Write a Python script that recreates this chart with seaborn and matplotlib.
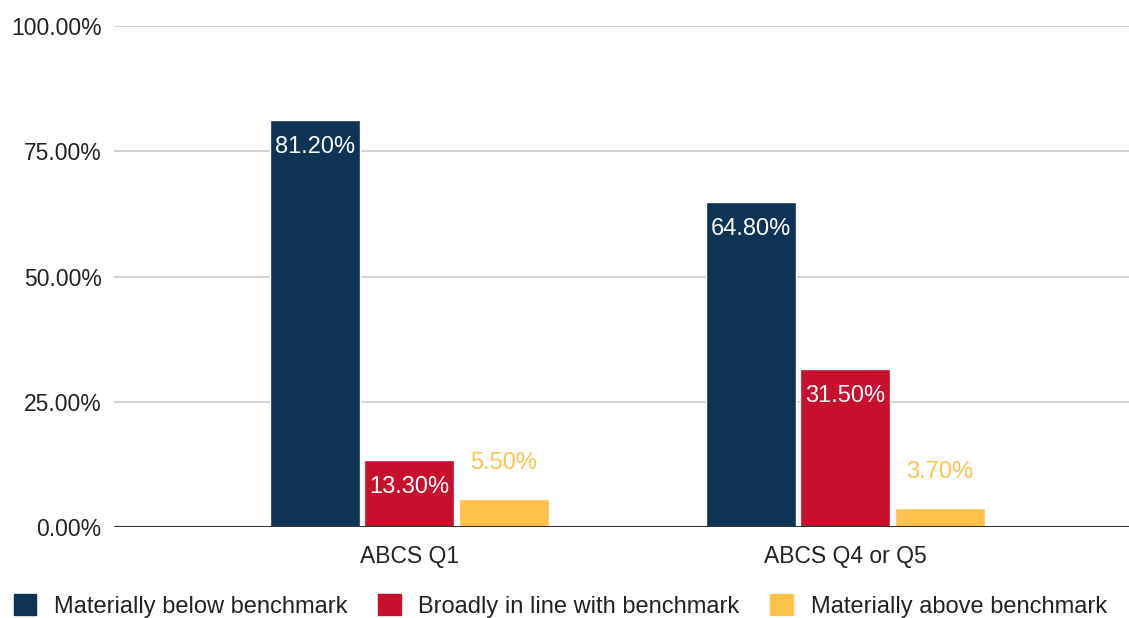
import matplotlib
matplotlib.use("Agg")
import matplotlib.pyplot as plt
import seaborn as sns
import pandas as pd
from matplotlib.patches import Patch
from matplotlib.ticker import FuncFormatter

# Share of outcomes versus benchmark, by ABCS group (%)
groups = ["ABCS Q1", "ABCS Q4 or Q5"]
series = ["Materially below benchmark", "Broadly in line with benchmark", "Materially above benchmark"]
below = [81.2, 64.8]
in_line = [13.3, 31.5]
above = [5.5, 3.7]
y_ticks = [0, 25, 50, 75, 100]

colors = ["#0e3354", "#c8102e", "#ffc34d"]
label_colors = ["white", "white", "#ffc34d"]

rows = []
for name, vals in zip(series, [below, in_line, above]):
    for g, v in zip(groups, vals):
        rows.append({"group": g, "series": name, "value": v})
df = pd.DataFrame(rows)

sns.set_theme(style="white")
plt.rcParams["font.family"] = ["Liberation Sans", "DejaVu Sans"]

fig = plt.figure(figsize=(11.29, 6.18), dpi=100)
ax = fig.add_axes([114 / 1129, (618 - 527) / 618, 1 - 114 / 1129, (527 - 26) / 618])

sns.barplot(data=df, x="group", y="value", hue="series", hue_order=series,
            palette=colors, width=0.65, gap=0.045, saturation=1,
            legend=False, ax=ax)

ax.set_ylim(0, 100)
ax.set_xlim(-0.677, 1.651)
ax.set_yticks(y_ticks)
ax.yaxis.set_major_formatter(FuncFormatter(lambda v, _: f"{v:.2f}%"))
ax.grid(axis="y", color="#cccccc", linewidth=1.2)
ax.set_axisbelow(True)
ax.axhline(0, color="#333333", linewidth=1.5, zorder=3)
for s in ax.spines.values():
    s.set_visible(False)
ax.tick_params(axis="both", length=0, labelsize=16.5, colors="#222222")
ax.tick_params(axis="y", pad=9)
ax.tick_params(axis="x", pad=13)
ax.set_xlabel("")
ax.set_ylabel("")

for cont, lc in zip(ax.containers, label_colors):
    inside = lc == "white"
    ax.bar_label(cont, labels=[f"{b.get_height():.2f}%" for b in cont],
                 padding=-27 if inside else 18, color=lc, fontsize=17)

handles = [Patch(facecolor=c, edgecolor=c) for c in colors]
fig.legend(handles, series, loc="center left", bbox_to_anchor=(0.004, (618 - 606) / 618),
           ncol=3, frameon=False, fontsize=17, handlelength=0.95, handleheight=1.0,
           handletextpad=0.75, columnspacing=1.3, borderaxespad=0, labelcolor="#222222")

fig.savefig("out.png", dpi=100, facecolor="white")
